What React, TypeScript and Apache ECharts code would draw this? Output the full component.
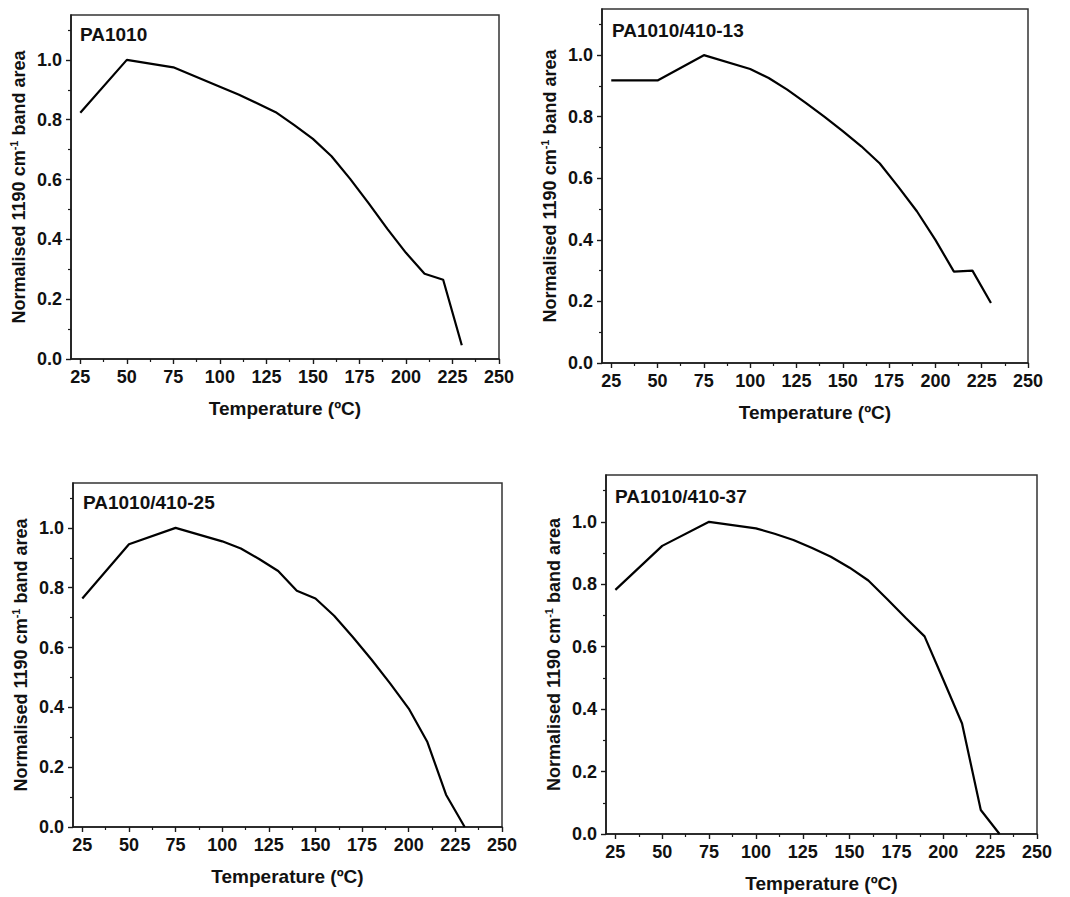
import React, { useEffect, useRef } from "react";
import * as echarts from "echarts";

const temps = [25, 50, 75, 100, 110, 120, 130, 140, 150, 160, 170, 180, 190, 200, 210, 220, 230];

const titles = ["PA1010", "PA1010/410-13", "PA1010/410-25", "PA1010/410-37"];

const pa1010 = [0.823, 1.0, 0.975, 0.91, 0.884, 0.855, 0.825, 0.782, 0.736, 0.678, 0.602, 0.52, 0.435, 0.355, 0.285, 0.265, 0.046];
const pa410_13 = [0.918, 0.918, 1.0, 0.955, 0.926, 0.888, 0.845, 0.8, 0.753, 0.704, 0.648, 0.572, 0.493, 0.4, 0.297, 0.3, 0.195];
const pa410_25 = [0.764, 0.945, 1.0, 0.955, 0.931, 0.895, 0.856, 0.79, 0.764, 0.706, 0.635, 0.56, 0.48, 0.396, 0.284, 0.108, 0.0];
const pa410_37 = [0.782, 0.923, 1.0, 0.979, 0.962, 0.942, 0.916, 0.888, 0.853, 0.812, 0.753, 0.692, 0.633, 0.494, 0.354, 0.077, 0.0];

const xMajorTicks = [25, 50, 75, 100, 125, 150, 175, 200, 225, 250];
const xMinorTicks = [37.5, 62.5, 87.5, 112.5, 137.5, 162.5, 187.5, 212.5, 237.5];
const yMajorTicks = [0, 0.2, 0.4, 0.6, 0.8, 1.0];
const yMinorTicks = [0.1, 0.3, 0.5, 0.7, 0.9, 1.1];

const xName = "Temperature (ºC)";
const yName = "Normalised 1190 cm{sup|-1} band area";

const panelValues = [pa1010, pa410_13, pa410_25, pa410_37];

const grids = [
  { left: 71, top: 15, width: 428, height: 344 },
  { left: 602, top: 9, width: 426, height: 354 },
  { left: 73, top: 483, width: 429, height: 344 },
  { left: 606, top: 475, width: 431, height: 359 },
];
const titlePos = [
  { left: 80, cy: 35.5 },
  { left: 612, cy: 31.2 },
  { left: 83, cy: 503.7 },
  { left: 615, cy: 497.8 },
];

const FONT = "'Liberation Sans', Arial, Helvetica, sans-serif";
const AX = "#1a1a1a";

export default function App() {
  const ref = useRef<HTMLDivElement>(null);
  useEffect(() => {
    if (!ref.current) return;
    const chart = echarts.init(ref.current, null, { renderer: "svg" });
    const xAxes: any[] = [];
    const yAxes: any[] = [];
    const series: any[] = [];
    panelValues.forEach((vals, i) => {
      xAxes.push({
        type: "value",
        gridIndex: i,
        position: "bottom",
        min: 20,
        max: 250,
        axisLine: { show: true, onZero: false, lineStyle: { color: AX, width: 1.6 } },
        axisTick: { show: true, customValues: xMajorTicks, length: 5, lineStyle: { color: AX, width: 1.4 } },
        axisLabel: {
          show: true,
          customValues: xMajorTicks,
          margin: 9,
          color: "#111",
          fontSize: 18,
          fontWeight: "bold",
          fontFamily: FONT,
        },
        splitLine: { show: false },
        name: xName,
        nameLocation: "middle",
        nameGap: 40,
        nameTextStyle: { color: "#111", fontSize: 19, fontWeight: "bold", fontFamily: FONT },
      });
      xAxes.push({
        type: "value",
        gridIndex: i,
        position: "bottom",
        min: 20,
        max: 250,
        axisLine: { show: false, onZero: false },
        axisTick: { show: true, customValues: xMinorTicks, length: 3, lineStyle: { color: AX, width: 1.2 } },
        axisLabel: { show: false },
        splitLine: { show: false },
      });
      yAxes.push({
        type: "value",
        gridIndex: i,
        position: "left",
        min: 0,
        max: 1.15,
        axisLine: { show: true, onZero: false, lineStyle: { color: AX, width: 1.6 } },
        axisTick: { show: true, customValues: yMajorTicks, length: 5, lineStyle: { color: AX, width: 1.4 } },
        axisLabel: {
          show: true,
          customValues: yMajorTicks,
          margin: 9,
          color: "#111",
          fontSize: 18,
          fontWeight: "bold",
          fontFamily: FONT,
          formatter: (v: number) => v.toFixed(1),
        },
        splitLine: { show: false },
        name: yName,
        nameLocation: "middle",
        nameGap: 41,
        nameRotate: 90,
        nameTextStyle: {
          color: "#111",
          fontSize: 18,
          fontWeight: "bold",
          fontFamily: FONT,
          rich: {
            sup: { fontSize: 11, fontWeight: "bold", fontFamily: FONT, color: "#111", verticalAlign: "top", lineHeight: 22 },
          },
        },
      });
      yAxes.push({
        type: "value",
        gridIndex: i,
        position: "left",
        min: 0,
        max: 1.15,
        axisLine: { show: false, onZero: false },
        axisTick: { show: true, customValues: yMinorTicks, length: 3, lineStyle: { color: AX, width: 1.2 } },
        axisLabel: { show: false },
        splitLine: { show: false },
      });
      series.push({
        type: "line",
        xAxisIndex: 2 * i,
        yAxisIndex: 2 * i,
        data: temps.map((t, j) => [t, vals[j]]),
        showSymbol: false,
        symbol: "none",
        lineStyle: { color: "#000", width: 2.2 },
        silent: true,
      });
    });
    const option: any = {
      animation: false,
      backgroundColor: "#fff",
      grid: grids.map((g) => ({
        ...g,
        show: true,
        borderColor: "#333",
        borderWidth: 1.5,
        backgroundColor: "transparent",
        containLabel: false,
      })),
      title: titles.map((t, i) => ({
        text: t,
        left: titlePos[i].left,
        top: titlePos[i].cy - 10.5,
        padding: 0,
        textStyle: { color: "#111", fontSize: 19, fontWeight: "bold", fontFamily: FONT },
      })),
      xAxis: xAxes,
      yAxis: yAxes,
      series,
    };
    chart.setOption(option);
    return () => chart.dispose();
  }, []);
  return (
    <div
      ref={ref}
      style={{ position: "absolute", left: 0, top: 0, width: 1070, height: 897, background: "#fff" }}
    />
  );
}
